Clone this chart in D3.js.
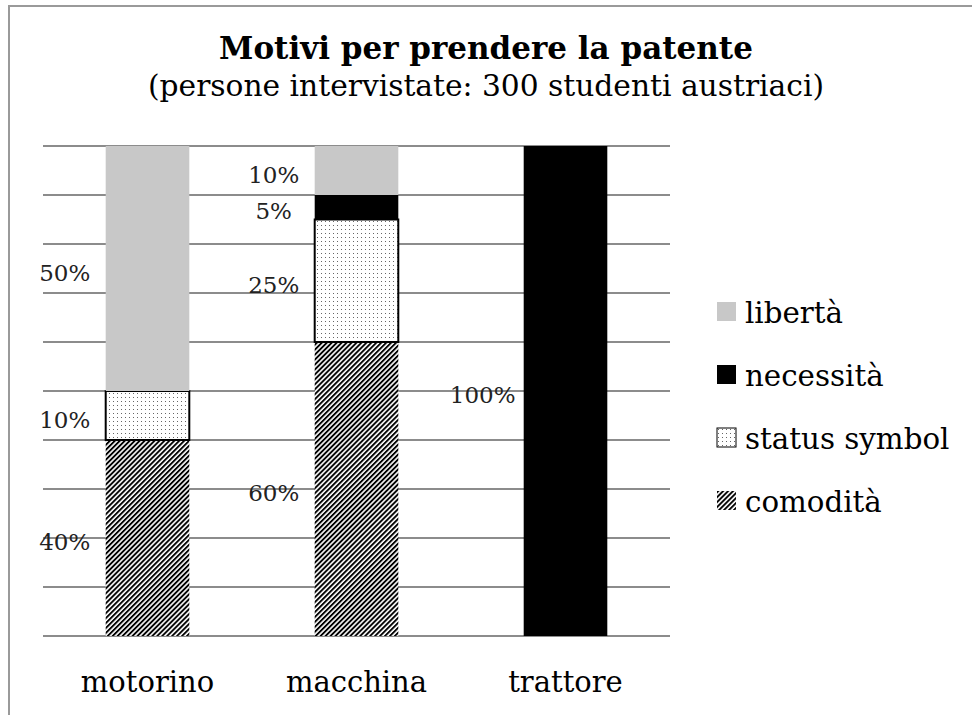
<!DOCTYPE html>
<html><head><meta charset="utf-8">
<script src="https://cdn.jsdelivr.net/npm/d3@7"></script>
<style>body{margin:0;background:#fff}svg{display:block}</style>
</head><body>
<svg id="c" width="972" height="715"></svg>
<script>
const categories = ["motorino", "macchina", "trattore"];
const seriesNames = ["comodità", "status symbol", "necessità", "libertà"];
const comodita = [40, 60, 0];
const statusSymbol = [10, 25, 0];
const necessita = [0, 5, 100];
const liberta = [50, 10, 0];
const legendOrder = ["libertà", "necessità", "status symbol", "comodità"];
const gridTicks = [0,10,20,30,40,50,60,70,80,90,100];
const titleText = "Motivi per prendere la patente";
const subtitleText = "(persone intervistate: 300 studenti austriaci)";

const FONT = "'DejaVu Serif', serif";
const svg = d3.select("#c");
const defs = svg.append("defs");
const hatch = defs.append("pattern").attr("id","hatch").attr("patternUnits","userSpaceOnUse")
  .attr("width",3.5).attr("height",3.5).attr("patternTransform","rotate(45)");
hatch.append("rect").attr("width",3.5).attr("height",3.5).attr("fill","#fff");
hatch.append("rect").attr("x",0).attr("y",0).attr("width",1.9).attr("height",3.5).attr("fill","#000");
const dots = defs.append("pattern").attr("id","dots").attr("patternUnits","userSpaceOnUse")
  .attr("width",4).attr("height",4);
dots.append("rect").attr("width",4).attr("height",4).attr("fill","#fff");
dots.append("rect").attr("x",1).attr("y",1).attr("width",1).attr("height",1).attr("fill","#666");

const fills = {"libertà":"#c8c8c8","necessità":"#000","status symbol":"url(#dots)","comodità":"url(#hatch)"};
const strokes = {"status symbol":"#000"};

// outer border
svg.append("rect").attr("x",9).attr("y",6).attr("width",1000).attr("height",1000)
  .attr("fill","none").attr("stroke","#9a9a9a").attr("stroke-width",2);

const x = d3.scaleBand().domain(categories).range([43,670]).paddingInner(0.6).paddingOuter(0.3);
const y = d3.scaleLinear().domain([0,100]).range([636,146]);

// grid
svg.append("g").selectAll("line").data(gridTicks).join("line")
  .attr("x1",43).attr("x2",670).attr("y1",d=>y(d)).attr("y2",d=>y(d))
  .attr("stroke","#8c8c8c").attr("stroke-width",2);

// stacked data
const table = categories.map((c,i)=>({cat:c,"comodità":comodita[i],"status symbol":statusSymbol[i],"necessità":necessita[i],"libertà":liberta[i]}));
const stack = d3.stack().keys(seriesNames)(table);

const g = svg.append("g");
stack.forEach(layer=>{
  const key = layer.key;
  layer.forEach(d=>{
    if (d[1]-d[0] <= 0) return;
    g.append("rect")
      .attr("x", x(d.data.cat)).attr("width", x.bandwidth())
      .attr("y", y(d[1])).attr("height", y(d[0])-y(d[1]))
      .attr("fill", fills[key])
      .attr("stroke", strokes[key]||"none").attr("stroke-width", 2);
    svg.append("text")
      .attr("x", x(d.data.cat) - 41)
      .attr("y", (y(d[0])+y(d[1]))/2 + 12)
      .attr("text-anchor","middle")
      .attr("font-family",FONT).attr("font-size",23).attr("fill","#222")
      .text((d[1]-d[0])+"%");
  });
});

// category axis labels
svg.append("g").selectAll("text").data(categories).join("text")
  .attr("x", d=>x(d)+x.bandwidth()/2).attr("y",692)
  .attr("text-anchor","middle").attr("font-family",FONT).attr("font-size",29).attr("fill","#000")
  .text(d=>d);

// title
svg.append("text").attr("x",486).attr("y",59).attr("text-anchor","middle")
  .attr("font-family",FONT).attr("font-weight","bold").attr("font-size",31).text(titleText);
svg.append("text").attr("x",486).attr("y",96).attr("text-anchor","middle")
  .attr("font-family",FONT).attr("font-size",29.7).text(subtitleText);

// legend
const lg = svg.append("g").selectAll("g").data(legendOrder).join("g")
  .attr("transform",(d,i)=>`translate(717,${302+i*63})`);
lg.append("rect").attr("width",19).attr("height",19)
  .attr("fill",d=>fills[d]).attr("stroke",d=>strokes[d]||"none").attr("stroke-width",1);
lg.append("text").attr("x",28).attr("y",21).attr("font-family",FONT).attr("font-size",29.3).text(d=>d);
</script>
</body></html>
